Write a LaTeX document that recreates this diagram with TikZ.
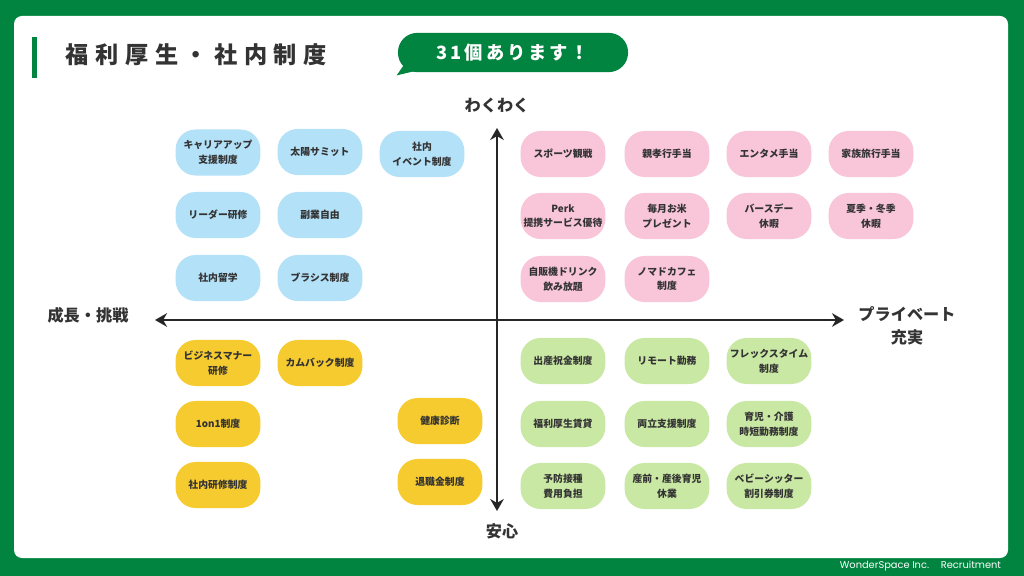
\documentclass[tikz,border=0pt]{standalone}
\usepackage{fontspec}
\setmainfont{Noto Sans CJK JP}
\newfontfamily\titlefont[LetterSpace=28]{Noto Sans CJK JP}
\newfontfamily\badgefont[LetterSpace=16]{Noto Sans CJK JP}
\newfontfamily\footfont{Poppins}
\usepackage{xcolor}
\usetikzlibrary{arrows.meta, positioning, calc}

\definecolor{wsgreen}{HTML}{00843F}
\definecolor{qblue}{HTML}{B3E1F8}
\definecolor{qpink}{HTML}{F8C5D9}
\definecolor{qyellow}{HTML}{F6CB2F}
\definecolor{qgreen}{HTML}{C9E8A3}
\definecolor{inktext}{HTML}{333333}

\tikzset{
  %% Benefit card (pill shaped)
  perk/.style={
    rectangle, rounded corners=0.5cm,
    fill=#1, text=inktext,
    minimum width=2.12cm, minimum height=1.15cm,
    align=center, font=\fontsize{7}{10.5}\selectfont\bfseries,
    inner sep=1pt
  },
  perk/.default=qblue,
  %% Axis with two heads
  axis/.style={{Stealth[length=3mm,width=3.4mm]}-{Stealth[length=3mm,width=3.4mm]},
               draw=black!85, line width=2.1pt},
  %% Axis label
  axlabel/.style={font=\fontsize{11.5}{16}\selectfont\bfseries,
                  text=inktext, align=center},
}

\begin{document}
\begin{tikzpicture}[x=0.025cm, y=-0.025cm]
  \useasboundingbox (0,0) rectangle (1024,576);

  %% Frame
  \fill[wsgreen] (0,0) rectangle (1024,576);
  \fill[white, rounded corners=0.2cm] (14,16) rectangle (1008,558);

  %% Title
  \fill[wsgreen] (32,37) rectangle (37,78);
  \node[anchor=west, text=inktext, font=\titlefont\fontsize{16.5}{19}\selectfont\bfseries]
       (title) at (61,55) {福利厚生・社内制度};

  %% Count bubble
  \node[fill=wsgreen, rounded corners=0.48cm, minimum width=5.75cm,
        minimum height=0.98cm, text=white,
        font=\badgefont\fontsize{13}{15}\selectfont\bfseries]
       (count) at (513,52.5) {31個あります！};
  \fill[wsgreen] ($(count.south west)+(8,-10)$) -- ($(count.south west)+(-1,3)$)
       -- ($(count.south west)+(20,-2)$) -- cycle;

  %% Axes
  \coordinate (ytop) at (497,128);
  \coordinate (ybot) at (497,511);
  \coordinate (xleft) at (155,320);
  \coordinate (xright) at (844,320);
  \draw[axis] (ybot) -- (ytop);
  \draw[axis] (xleft) -- (xright);

  \node[axlabel] (waku) at (497,105) {わくわく};
  \node[axlabel] (anshin) at (502,531) {安心};
  \node[axlabel] (growth) at (88,315) {成長・挑戦};
  \node[axlabel] (private) at (907,326) {プライベート\\充実};

  %% Upper left: blue
  \node[perk=qblue] (bl1) at (218,152.5) {キャリアアップ\\支援制度};
  \node[perk=qblue] (bl2) at (320,152)   {太陽サミット};
  \node[perk=qblue] (bl3) at (422,154)   {社内\\イベント制度};
  \node[perk=qblue] (bl4) at (218,215)   {リーダー研修};
  \node[perk=qblue] (bl5) at (320,215)   {副業自由};
  \node[perk=qblue] (bl6) at (218,278)   {社内留学};
  \node[perk=qblue] (bl7) at (320,278)   {ブラシス制度};

  %% Upper right: pink
  \node[perk=qpink] (pk1) at (563,154) {スポーツ観戦};
  \node[perk=qpink] (pk2) at (667,154) {親孝行手当};
  \node[perk=qpink] (pk3) at (769,154) {エンタメ手当};
  \node[perk=qpink] (pk4) at (871,154) {家族旅行手当};
  \node[perk=qpink] (pk5) at (563,216) {Perk\\提携サービス優待};
  \node[perk=qpink] (pk6) at (667,216) {毎月お米\\プレゼント};
  \node[perk=qpink] (pk7) at (769,216) {バースデー\\休暇};
  \node[perk=qpink] (pk8) at (871,216) {夏季・冬季\\休暇};
  \node[perk=qpink] (pk9) at (563,279) {自販機ドリンク\\飲み放題};
  \node[perk=qpink] (pk10) at (667,279) {ノマドカフェ\\制度};

  %% Lower left: yellow
  \node[perk=qyellow] (yl1) at (218,363) {ビジネスマナー\\研修};
  \node[perk=qyellow] (yl2) at (320,363) {カムバック制度};
  \node[perk=qyellow] (yl3) at (218,424) {1on1制度};
  \node[perk=qyellow] (yl4) at (440,421) {健康診断};
  \node[perk=qyellow] (yl5) at (218,485) {社内研修制度};
  \node[perk=qyellow] (yl6) at (440,482) {退職金制度};

  %% Lower right: green
  \node[perk=qgreen] (gr1) at (563,361) {出産祝金制度};
  \node[perk=qgreen] (gr2) at (667,361) {リモート勤務};
  \node[perk=qgreen] (gr3) at (769,361) {フレックスタイム\\制度};
  \node[perk=qgreen] (gr4) at (563,424) {福利厚生賃貸};
  \node[perk=qgreen] (gr5) at (667,424) {両立支援制度};
  \node[perk=qgreen] (gr6) at (769,424) {育児・介護\\時短勤務制度};
  \node[perk=qgreen] (gr7) at (563,486) {予防接種\\費用負担};
  \node[perk=qgreen] (gr8) at (667,486) {産前・産後育児\\休業};
  \node[perk=qgreen] (gr9) at (769,486) {ベビーシッター\\割引券制度};

  %% Footer
  \node[anchor=east, text=white, font=\footfont\fontsize{7}{8}\selectfont]
       (footer) at (1006,566) {WonderSpace Inc.\hspace{1.2em}Recruitment};

\end{tikzpicture}
\end{document}
